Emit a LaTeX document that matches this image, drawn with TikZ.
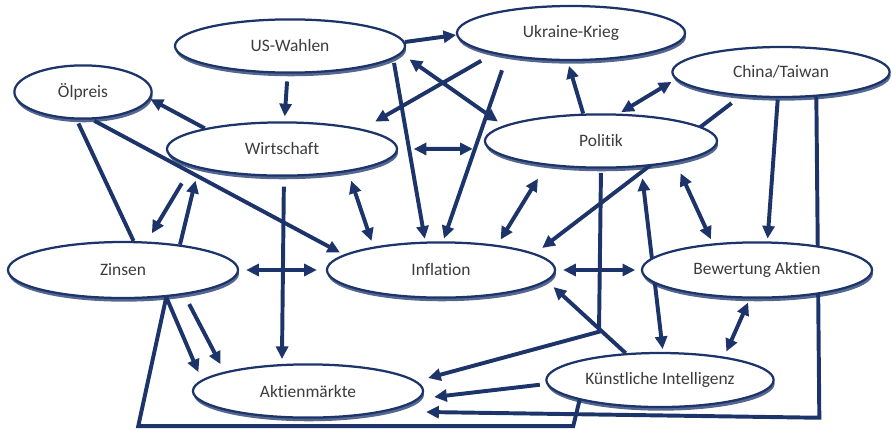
\documentclass[tikz,border=0pt]{standalone}
\usepackage{fontspec}
\setmainfont{Carlito}[Ligatures=NoCommon]
\usetikzlibrary{arrows.meta,shapes.geometric,shadows,backgrounds}
\definecolor{marine}{RGB}{28,52,106}
\definecolor{schrift}{RGB}{60,60,60}
\tikzset{
  thema/.style={ellipse, draw=marine, line width=1.6pt, fill=white, inner sep=0pt,
    minimum width=5.75cm, minimum height=1.33cm, text=schrift,
    font=\fontsize{12.4}{14}\selectfont,
    drop shadow={shadow xshift=0.7pt, shadow yshift=-2.6pt, fill=marine, opacity=0.75}},
  bezug/.style={draw=marine, line width=2.8pt},
}
\begin{document}
\begin{tikzpicture}[x=0.025cm, y=-0.025cm, >={Triangle[length=9pt,width=8.5pt]}]
        \useasboundingbox (0,0) rectangle (892,430);

        \node[thema] (usw) at (290,46) {US-Wahlen};
        \node[thema, minimum width=5.7cm, minimum height=1.35cm] (ukr) at (571,33) {Ukraine-Krieg};
        \node[thema, minimum width=5.43cm, minimum height=1.25cm] (chi) at (781,72) {China/Taiwan};
        \node[thema, minimum width=3.43cm] (oel) at (83,92) {Ölpreis};
        \node[thema] (wir) at (282,149) {Wirtschaft};
        \node[thema, minimum width=5.8cm] (pol) at (601,141) {Politik};
        \node[thema, minimum height=1.4cm] (zin) at (123,270) {Zinsen};
        \node[thema, minimum width=5.7cm, minimum height=1.38cm] (inf) at (441,270) {Inflation};
        \node[thema, minimum height=1.38cm] (bew) at (757,270) {Bewertung Aktien};
        \node[thema] (akt) at (308,391) {Aktienmärkte};
        \node[thema, minimum width=5.68cm, minimum height=1.35cm] (ki) at (660,380) {Künstliche Intelligenz};

        \begin{pgfonlayer}{background}
        \draw[bezug,->] (usw.2) -- (ukr.181);
        \draw[bezug,->,shorten <=5.5pt,shorten >=3.5pt] (usw.-95) -- (wir.85);
        \draw[bezug,->] (wir.165) -- (oel.-6);
        \draw[bezug,->,shorten <=10pt,shorten >=10.5pt] (ukr.195) -- (wir.14);
        \draw[bezug,<->,shorten <=7pt,shorten >=5pt] (usw.-4) -- (pol.171);
        \draw[bezug,->,shorten <=3pt,shorten >=2pt] (usw.-7.5) -- (inf.119);
        \draw[bezug,->,shorten <=10.5pt,shorten >=2pt] (ukr.200) -- (inf.86);
        \draw[bezug,<->,shorten <=11pt,shorten >=11.3pt] (wir.0) -- (pol.184);
        \draw[bezug,->,shorten >=3.5pt] (pol.123) -- (ukr.263);
        \draw[bezug,<->,shorten <=3.5pt,shorten >=2pt] (chi.184) -- (pol.57);
        \draw[bezug,->,shorten <=8pt,shorten >=6.4pt] (chi.211) -- (inf.10);
        \draw[bezug,->,shorten <=2pt,shorten >=3pt] (oel.-72) -- (inf.171);
        \draw[bezug,shorten <=3pt] (oel.-103) -- (zin.70);
        \draw[bezug,->,shorten <=14pt,shorten >=6.8pt] (wir.191) -- (zin.50);
        \draw[bezug,->,shorten >=9pt] (zin.24) -- (wir.193);
        \draw[bezug,<->,shorten <=6.7pt,shorten >=4.3pt] (wir.-19) -- (inf.161);
        \draw[bezug,->,shorten <=7pt,shorten >=3.5pt] (wir.-86) -- (akt.134);
        \draw[bezug,<->,shorten <=5pt,shorten >=6.4pt] (zin.0) -- (inf.180);
        \draw[bezug,->,shorten <=7.5pt,shorten >=6pt] (zin.-22) -- (akt.167);
        \draw[bezug,->,shorten >=6pt] (zin.-32) -- (akt.174);
        \draw[bezug] (zin.-32) -- ++(-28,129) -- ++(435,0) -- (ki.194);
        \draw[bezug,->,shorten <=1pt,shorten >=2pt] (chi.-97) -- (bew.70);
        \draw[bezug,->] (chi.-35) -- ++(3,321) -- ([shift={(2,21)}]akt.east);
        \draw[bezug,->,shorten <=3pt] (pol.-90) -- ++(-2,163) -- ([shift={(4,-13)}]akt.east);
        \draw[bezug,<->,shorten <=5pt,shorten >=4pt] (inf.0) -- (bew.180);
        \draw[bezug,<->,shorten <=11pt,shorten >=4.5pt] (pol.204) -- (inf.24);
        \draw[bezug,->,shorten >=6.2pt] (ki.142) -- (inf.-6);
        \draw[bezug,<->,shorten <=8pt,shorten >=2pt] (pol.-33) -- (ki.84);
        \draw[bezug,<->,shorten <=8.5pt,shorten >=3.3pt] (pol.-16) -- (bew.149);
        \draw[bezug,<->,shorten <=3pt,shorten >=4pt] (bew.256) -- (ki.20);
        \draw[bezug,->,shorten <=4.7pt] (ki.182) -- ([shift={(10,6)}]akt.east);
        \end{pgfonlayer}
\end{tikzpicture}
\end{document}
